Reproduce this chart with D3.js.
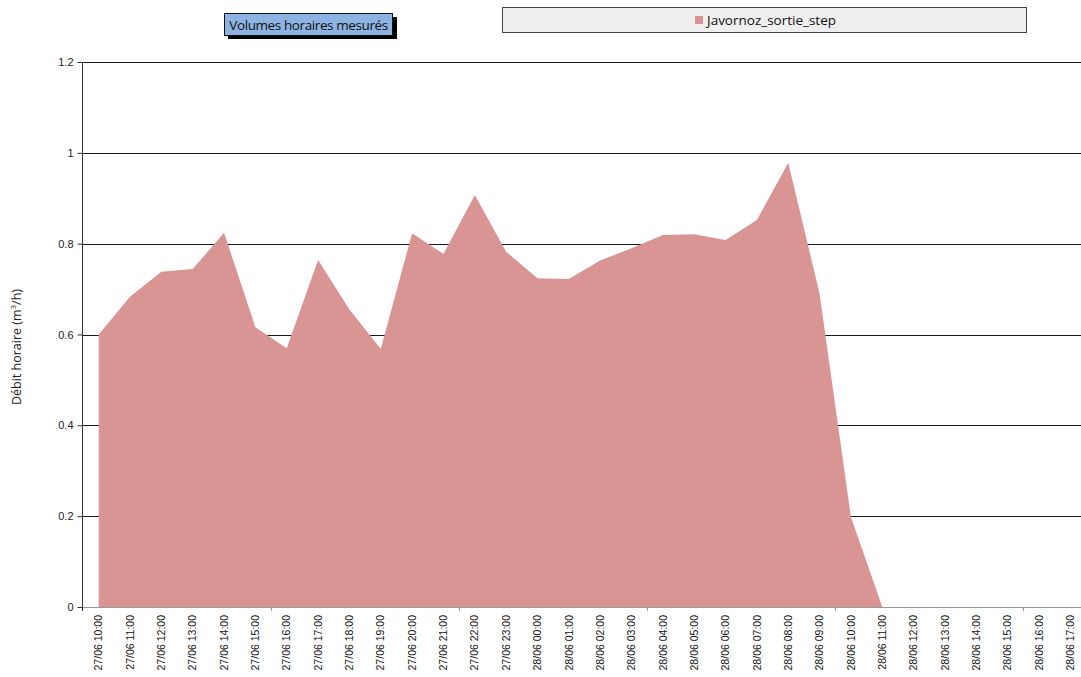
<!DOCTYPE html>
<html>
<head>
<meta charset="utf-8">
<script src="https://cdn.jsdelivr.net/npm/d3@7"></script>
<style>
  body { margin: 0; background: #fff; }
  svg { display: block; font-family: "Open Sans", "Noto Sans", sans-serif; }
</style>
</head>
<body>
<svg id="chart" width="1081" height="677"></svg>
<script>
'use strict';

const hours = [
    '27/06 10:00', '27/06 11:00', '27/06 12:00', '27/06 13:00', '27/06 14:00', '27/06 15:00',
    '27/06 16:00', '27/06 17:00', '27/06 18:00', '27/06 19:00', '27/06 20:00', '27/06 21:00',
    '27/06 22:00', '27/06 23:00', '28/06 00:00', '28/06 01:00', '28/06 02:00', '28/06 03:00',
    '28/06 04:00', '28/06 05:00', '28/06 06:00', '28/06 07:00', '28/06 08:00', '28/06 09:00',
    '28/06 10:00', '28/06 11:00', '28/06 12:00', '28/06 13:00', '28/06 14:00', '28/06 15:00',
    '28/06 16:00', '28/06 17:00'
];

const sortieStep = [
    0.60, 0.683, 0.738, 0.744, 0.824, 0.616, 0.570, 0.764, 0.655, 0.568, 0.823, 0.777,
    0.907, 0.782, 0.724, 0.722, 0.763, 0.790, 0.819, 0.821, 0.808, 0.852, 0.978, 0.690,
    0.198, 0, 0, 0, 0, 0, 0, 0
];

const yTicks = [0, 0.2, 0.4, 0.6, 0.8, 1, 1.2];

const seriesName = 'Javornoz_sortie_step';
const chartTitle = 'Volumes horaires mesurés';

const svg = d3.select('#chart');

const plotLeft = 83, plotTop = 62, plotBottom = 607;

const x = d3.scaleBand()
    .domain(hours)
    .range([plotLeft, 1086]);

const y = d3.scaleLinear()
    .domain([0, 1.2])
    .range([plotBottom, plotTop]);

const cx = (d) => x(d) + x.bandwidth() / 2;

// gridlines
svg.append('g')
    .selectAll('line')
    .data(yTicks.filter((t) => t > 0))
    .enter()
    .append('line')
    .attr('x1', plotLeft)
    .attr('x2', 1081)
    .attr('y1', (d) => Math.round(y(d)) + 0.5)
    .attr('y2', (d) => Math.round(y(d)) + 0.5)
    .attr('stroke', '#1a1a1a')
    .attr('stroke-width', 1);

// the area
const points = hours.map((h, i) => ({h, v: sortieStep[i]}));

const area = d3.area()
    .x((d) => cx(d.h))
    .y0(y(0))
    .y1((d) => y(d.v));

svg.append('path')
    .datum(points)
    .attr('d', area)
    .attr('fill', '#d89594');

// x axis baseline
svg.append('line')
    .attr('x1', plotLeft)
    .attr('x2', 1081)
    .attr('y1', plotBottom + 0.5)
    .attr('y2', plotBottom + 0.5)
    .attr('stroke', '#999');

// x tick marks every 6 hours, at band boundaries
svg.append('g')
    .selectAll('line')
    .data(hours.filter((h, i) => i % 6 === 0 && i > 0))
    .enter()
    .append('line')
    .attr('x1', (d) => Math.round(x(d)) + 0.5)
    .attr('x2', (d) => Math.round(x(d)) + 0.5)
    .attr('y1', plotBottom)
    .attr('y2', plotBottom + 4)
    .attr('stroke', '#999');

// x labels, rotated
const xAxis = d3.axisBottom(x).tickSize(0).tickPadding(0);
const gx = svg.append('g')
    .attr('transform', `translate(0,${plotBottom})`)
    .call(xAxis);
gx.select('.domain').remove();
gx.selectAll('text')
    .attr('transform', 'rotate(-90)')
    .attr('x', -8)
    .attr('y', 0)
    .attr('dy', '0.35em')
    .attr('text-anchor', 'end')
    .attr('font-size', 10.5)
    .attr('font-family', '"Liberation Sans", sans-serif')
    .attr('fill', '#111');

// y axis
const yAxis = d3.axisLeft(y)
    .tickValues(yTicks)
    .tickSize(5)
    .tickPadding(4)
    .tickFormat((d) => String(+d.toFixed(1)));
const gy = svg.append('g')
    .attr('transform', `translate(${plotLeft - 0.5},0)`)
    .call(yAxis);
gy.select('.domain').attr('stroke', '#333').attr('d', `M0,${plotTop}V${plotBottom + 4}`);
gy.selectAll('.tick line').attr('stroke', '#333');
gy.selectAll('text')
    .attr('font-size', 11)
    .attr('fill', '#222');

// y axis title
const yTitle = svg.append('text')
    .attr('transform', 'translate(21,347) rotate(-90)')
    .attr('text-anchor', 'middle')
    .attr('font-size', 12.5)
    .attr('fill', '#222');
yTitle.append('tspan').text('Débit horaire (m');
yTitle.append('tspan').attr('font-size', 8).attr('dy', -5).text('3');
yTitle.append('tspan').attr('dy', 5).text('/h)');

// title box with shadow
const title = svg.append('g');
title.append('rect')
    .attr('x', 228)
    .attr('y', 17)
    .attr('width', 169)
    .attr('height', 22)
    .attr('fill', '#000');
title.append('rect')
    .attr('x', 224.5)
    .attr('y', 13.5)
    .attr('width', 168)
    .attr('height', 22)
    .attr('fill', '#8db3e2')
    .attr('stroke', '#111');
title.append('text')
    .attr('x', 308.5)
    .attr('y', 29.5)
    .attr('text-anchor', 'middle')
    .attr('font-size', 13.5)
    .attr('letter-spacing', -0.4)
    .attr('fill', '#111')
    .text(chartTitle);

// legend box
const legend = svg.append('g');
legend.append('rect')
    .attr('x', 502.5)
    .attr('y', 7.5)
    .attr('width', 524)
    .attr('height', 25)
    .attr('fill', '#efefef')
    .attr('stroke', '#444');
legend.append('rect')
    .attr('x', 695)
    .attr('y', 16)
    .attr('width', 8)
    .attr('height', 8)
    .attr('fill', '#d89594');
legend.append('text')
    .attr('x', 707)
    .attr('y', 24.5)
    .attr('font-size', 13.5)
    .attr('fill', '#111')
    .text(seriesName);
</script>
</body>
</html>
